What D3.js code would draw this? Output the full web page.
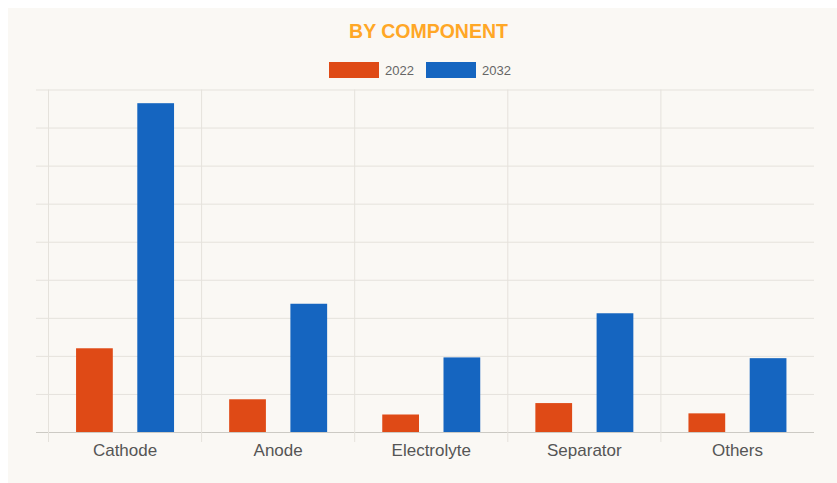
<!DOCTYPE html>
<html><head><meta charset="utf-8">
<script src="https://cdn.jsdelivr.net/npm/d3@7"></script>
<style>
html,body{margin:0;padding:0;background:#ffffff;}
svg{display:block;}
</style></head>
<body>
<svg id="chart" width="837" height="483"></svg>
<script>
const title = "BY COMPONENT";
const categories = ["Cathode", "Anode", "Electrolyte", "Separator", "Others"];
const seriesNames = ["2022", "2032"];
const values2022 = [2.2, 0.86, 0.46, 0.76, 0.49];
const values2032 = [8.64, 3.37, 1.96, 3.12, 1.94];
const yTicks = [0, 1, 2, 3, 4, 5, 6, 7, 8, 9];
const colors = ["#DF4A16", "#1565C0"];

(function () {
const seriesValues = [values2022, values2032];
const data = categories.map((c, i) => ({cat: c, vals: seriesNames.map((s, j) => ({s, v: seriesValues[j][i]}))}));

const svg = d3.select("#chart");
svg.append("rect").attr("x", 8).attr("y", 8).attr("width", 829).attr("height", 475).attr("fill", "#faf8f4");

const pLeft = 48.5, pRight = 814, pTop = 89.5, pBottom = 432;
const x = d3.scaleBand().domain(categories).range([pLeft, pRight]).padding(0);
const bw = x.bandwidth();
const x1 = d3.scaleBand().domain(seriesNames).range([bw * 0.1, bw * 0.9]).paddingInner(0.4).paddingOuter(0.2);
const y = d3.scaleLinear().domain([0, 9]).range([pBottom, pTop]);

// horizontal grid (with left tick marks)
const gy = svg.append("g").attr("transform", `translate(${pRight},0)`);
gy.call(d3.axisLeft(y).tickValues(yTicks).tickSize(pRight - 36).tickFormat(""));
gy.select(".domain").remove();
gy.selectAll(".tick line").attr("stroke", "#e5e2dc").attr("stroke-width", 1);
gy.selectAll(".tick").filter(d => d === 0).select("line").attr("stroke", "#cccac4");

// vertical category grid lines
const bounds = categories.map(c => x(c));
svg.append("g").selectAll("line").data(bounds).join("line")
  .attr("x1", d => d).attr("x2", d => d)
  .attr("y1", pTop).attr("y2", pBottom + 10)
  .attr("stroke", "#e5e2dc").attr("stroke-width", 1);

// bars
const g = svg.append("g");
g.selectAll("g").data(data).join("g")
  .attr("transform", d => `translate(${x(d.cat)},0)`)
  .selectAll("rect").data(d => d.vals).join("rect")
  .attr("x", d => x1(d.s)).attr("width", x1.bandwidth())
  .attr("y", d => y(d.v)).attr("height", d => y(0) - y(d.v))
  .attr("fill", (d, i) => colors[i]);

// x axis labels
const gx = svg.append("g").attr("transform", `translate(0,${pBottom})`)
  .call(d3.axisBottom(x).tickSize(0).tickPadding(11.5));
gx.select(".domain").remove();
gx.selectAll("text").attr("font-family", "Liberation Sans, Arial, sans-serif")
  .attr("font-size", 17).attr("fill", "#555").attr("dy", "0.71em");

// title
svg.append("text").attr("x", 428.5).attr("y", 38).attr("text-anchor", "middle")
  .attr("font-family", "Liberation Sans, Arial, sans-serif").attr("font-weight", "bold")
  .attr("font-size", 19.5).attr("fill", "#FFA726").text(title);

// legend
const legendX = [329, 426];
const lg = svg.append("g");
seriesNames.forEach((s, i) => {
  lg.append("rect").attr("x", legendX[i]).attr("y", 62).attr("width", 50).attr("height", 16)
    .attr("fill", colors[i]);
  lg.append("text").attr("x", legendX[i] + 56).attr("y", 75)
    .attr("font-family", "Liberation Sans, Arial, sans-serif").attr("font-size", 13)
    .attr("fill", "#666").text(s);
});
})();
</script>
</body></html>
